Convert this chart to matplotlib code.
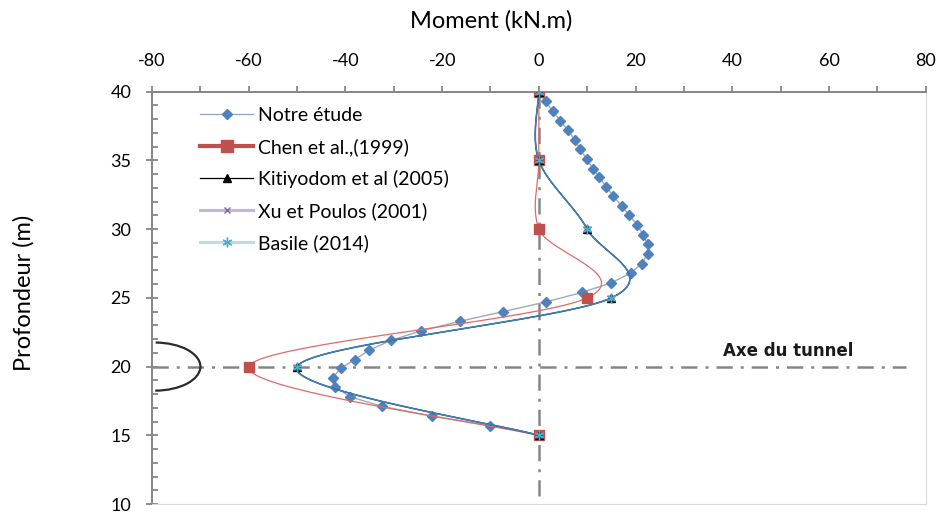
import numpy as np
import matplotlib.pyplot as plt
from matplotlib.lines import Line2D
from matplotlib.patches import Arc
from matplotlib.ticker import MultipleLocator

plt.rcParams['font.family'] = ['Lato', 'DejaVu Sans']
plt.rcParams['axes.unicode_minus'] = False

# Notre étude
notre_depth = [40.0, 39.3, 38.6, 37.9, 37.2, 36.5, 35.8, 35.1, 34.4, 33.8,
               33.1, 32.4, 31.7, 31.0, 30.3, 29.6, 28.9, 28.2, 27.5, 26.8,
               26.1, 25.4, 24.7, 24.0, 23.3, 22.6, 21.9, 21.2, 20.5, 19.9,
               19.2, 18.5, 17.8, 17.1, 16.4, 15.7, 15.0]
notre_moment = [0.0, 1.4, 2.9, 4.4, 6.0, 7.4, 8.6, 9.9, 11.2, 12.5,
                13.9, 15.4, 17.1, 18.7, 20.4, 21.5, 22.5, 22.5, 21.3, 19.0,
                15.0, 9.0, 1.4, -7.4, -16.3, -24.4, -30.6, -35.1, -38.1, -40.9,
                -42.6, -42.1, -39.0, -32.4, -22.0, -10.0, 0.0]

# Chen et al. (1999)
chen_depth = [40, 35, 30, 25, 20, 15]
chen_moment = [0, 0, 0, 10, -60, 0]

# Kitiyodom, Xu et Poulos, Basile (same points)
kiti_depth = [40, 35, 30, 25, 20, 15]
kiti_moment = [0, 0, 10, 15, -50, 0]
xu_depth = [40, 35, 30, 25, 20, 15]
xu_moment = [0, 0, 10, 15, -50, 0]
basile_depth = [40, 35, 30, 25, 20, 15]
basile_moment = [0, 0, 10, 15, -50, 0]

labels = ['Notre étude', 'Chen et al.,(1999)', 'Kitiyodom et al (2005)', 'Xu et Poulos (2001)', 'Basile (2014)']

xlim = (-80, 80)
ylim = (10, 40)
tunnel_depth = 20

# pixel per unit, used to smooth the curves like excel does
SX, SY = 4.84, 13.8


def smooth(xs, ys, n=40):
    p = np.column_stack([np.array(xs, float) * SX, np.array(ys, float) * SY])
    p = np.vstack([p[0], p, p[-1]])
    out = []
    t = np.linspace(0, 1, n)[:, None]
    for i in range(1, len(p) - 2):
        p0, p1, p2, p3 = p[i - 1], p[i], p[i + 1], p[i + 2]
        c1 = p1 + (p2 - p0) / 6
        c2 = p2 - (p3 - p1) / 6
        seg = ((1 - t) ** 3) * p1 + 3 * ((1 - t) ** 2) * t * c1 + 3 * (1 - t) * t ** 2 * c2 + t ** 3 * p2
        out.append(seg)
    out = np.vstack(out)
    return out[:, 0] / SX, out[:, 1] / SY


fig = plt.figure(figsize=(9.39, 5.13), dpi=100)
ax = fig.add_axes([0.1619, 0.0175, 0.8239, 0.8037])

gray = '#868686'
dashdot = (6.5, 3.2, 1.2, 3.2)

# tunnel axis and pile axis
ax.plot([-80, 76], [tunnel_depth, tunnel_depth], color=gray, lw=1.8, dashes=dashdot, zorder=1.5)
ax.plot([0, 0], [40, 10.4], color=gray, lw=1.8, dashes=dashdot, zorder=1.5)

# tunnel section
ax.add_patch(Arc((-79.4, 20.0), 18.8, 3.5, theta1=-88, theta2=85, color='#2b2b2b', lw=1.6, zorder=2))
ax.text(51.5, 21.1, 'Axe du tunnel', family='DejaVu Sans', fontweight='bold', fontsize=12,
        ha='center', va='center', color='#1a1a1a')

ax.plot(notre_moment, notre_depth, color='#a3a9b3', lw=1.0, marker='D', ms=5.5,
        mfc='#4f81bd', mec='#4f81bd', zorder=3)

cx, cy = smooth(chen_moment, chen_depth)
ax.plot(cx, cy, color='#e06a68', lw=0.9, zorder=3)
ax.plot(chen_moment, chen_depth, ls='none', marker='s', ms=7, mfc='#c0504d', mec='#c0504d', zorder=4)

kx, ky = smooth(kiti_moment, kiti_depth)
ax.plot(kx, ky, color='black', lw=0.8, zorder=3)
ax.plot(kiti_moment, kiti_depth, ls='none', marker='^', ms=6, color='black', zorder=4)

xx, xy = smooth(xu_moment, xu_depth)
ax.plot(xx, xy, color='#8064a2', lw=0.8, zorder=3)
ax.plot(xu_moment, xu_depth, ls='none', marker='x', ms=5, mew=1, color='#8064a2', zorder=4)

bx, by = smooth(basile_moment, basile_depth)
ax.plot(bx, by, color='#3b7fae', lw=1.2, zorder=3)
ax.plot(basile_moment, basile_depth, ls='none', marker=(6, 2, 0), ms=7, mew=1, color='#4bacc6', zorder=5)

ax.set_xlim(*xlim)
ax.set_ylim(*ylim)

ax.xaxis.set_ticks_position('top')
ax.xaxis.set_label_position('top')
ax.xaxis.set_major_locator(MultipleLocator(20))
ax.xaxis.set_minor_locator(MultipleLocator(10))
ax.yaxis.set_major_locator(MultipleLocator(5))
ax.yaxis.set_minor_locator(MultipleLocator(1))

ax.tick_params(axis='x', which='both', direction='out', length=4.5, width=1.3, color=gray,
               labelsize=13, pad=12)
ax.tick_params(axis='y', which='major', direction='inout', length=8, width=1.3, color=gray,
               labelsize=13, pad=11)
ax.tick_params(axis='y', which='minor', direction='in', length=4.5, width=1.3, color=gray)

for s in ['top', 'left']:
    ax.spines[s].set_color(gray)
    ax.spines[s].set_linewidth(1.4)
for s in ['bottom', 'right']:
    ax.spines[s].set_color('#d9d9d9')
    ax.spines[s].set_linewidth(0.8)

fig.text(491 / 939, 1 - 21 / 513, 'Moment (kN.m)', fontsize=17, ha='center', va='center')
fig.text(24 / 939, 1 - 293 / 513, 'Profondeur (m)', fontsize=17, ha='center', va='center', rotation=90)

handles = [
    Line2D([], [], color='#8ea3c4', lw=0.9, marker='D', ms=5.5, mfc='#4f81bd', mec='#4f81bd'),
    Line2D([], [], color='#c0504d', lw=3, marker='s', ms=8, mfc='#c0504d', mec='#c0504d'),
    Line2D([], [], color='black', lw=0.9, marker='^', ms=6, mfc='black', mec='black'),
    Line2D([], [], color='#c3b6d8', lw=2.2, marker='x', ms=5, mew=1, mec='#8064a2'),
    Line2D([], [], color='#b7dde8', lw=2.2, marker=(6, 2, 0), ms=7, mew=1, mec='#4bacc6'),
]
ax.legend(handles, labels, loc='upper left', bbox_to_anchor=(0.04, 1.005), frameon=False,
          fontsize=14, handlelength=2.7, labelspacing=0.72, handletextpad=0.25)

plt.savefig('out.png', dpi=100)
